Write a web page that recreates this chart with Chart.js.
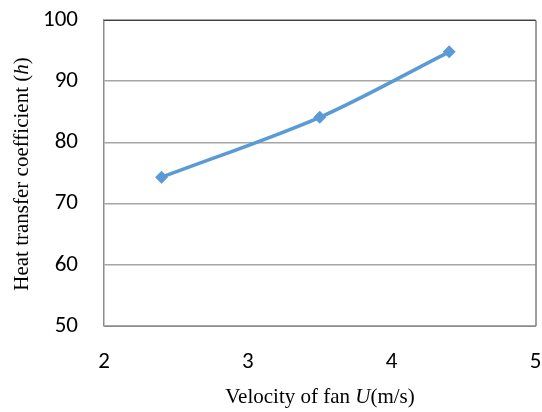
<!DOCTYPE html>
<html>
<head>
<meta charset="utf-8">
<script src="https://cdn.jsdelivr.net/npm/chart.js@4"></script>
<style>
  html, body { margin: 0; padding: 0; background: #fff; }
  #wrap { width: 542px; height: 412px; }
</style>
</head>
<body>
<div id="wrap"><canvas id="chart"></canvas></div>
<script>
var velocity = [2.4, 3.5, 4.4];
var heatCoeff = [74.3, 84.1, 94.8];
var xTicks = [2, 3, 4, 5];
var yTicks = [50, 60, 70, 80, 90, 100];
var xTitle = [['Velocity of fan ', false], ['U', true], ['(m/s)', false]];
var yTitle = [['Heat transfer coefficient (', false], ['h', true], [')', false]];

// draws a title made of plain and italic pieces
function drawRich(ctx, parts, size) {
    var total = 0;
    parts.forEach(function (p) {
        ctx.font = (p[1] ? 'italic ' : '') + size + 'px "Liberation Serif", serif';
        total += ctx.measureText(p[0]).width;
    });
    var x = -total / 2;
    parts.forEach(function (p) {
        ctx.font = (p[1] ? 'italic ' : '') + size + 'px "Liberation Serif", serif';
        ctx.fillText(p[0], x, 0);
        x += ctx.measureText(p[0]).width;
    });
}

var frame = {
    id: 'frame',
    afterDraw: function (chart) {
        var ctx = chart.ctx, a = chart.chartArea;
        ctx.save();
        ctx.strokeStyle = '#404040';
        ctx.lineWidth = 1;
        ctx.beginPath();
        ctx.moveTo(a.left, a.top + 0.5);
        ctx.lineTo(a.right + 0.5, a.top + 0.5);
        ctx.lineTo(a.right + 0.5, a.bottom);
        ctx.stroke();

        ctx.fillStyle = '#000';
        ctx.textBaseline = 'middle';
        ctx.textAlign = 'left';
        ctx.save();
        ctx.translate(320, 397);
        drawRich(ctx, xTitle, 21);
        ctx.restore();
        ctx.save();
        ctx.translate(22, 174);
        ctx.rotate(-Math.PI / 2);
        drawRich(ctx, yTitle, 21);
        ctx.restore();
        ctx.restore();
    }
};

var tickFont = { family: 'Carlito, "Liberation Sans", sans-serif', size: 23 };

var ctx = document.getElementById('chart').getContext('2d');
new Chart(ctx, {
    type: 'scatter',
    data: {
        datasets: [{
            data: velocity.map(function (v, i) { return { x: v, y: heatCoeff[i] }; }),
            showLine: true,
            borderColor: '#5B9BD5',
            backgroundColor: '#5B9BD5',
            borderWidth: 3.5,
            tension: 0.3,
            pointStyle: 'rectRot',
            pointRadius: 6.5,
            pointBorderWidth: 0
        }]
    },
    options: {
        responsive: true,
        maintainAspectRatio: false,
        animation: false,
        layout: { padding: { top: 20, right: 6, left: 0, bottom: 0 } },
        plugins: { legend: { display: false }, tooltip: { enabled: false } },
        scales: {
            x: {
                type: 'linear',
                min: 2, max: 5,
                afterBuildTicks: function (s) { s.ticks = xTicks.map(function (v) { return { value: v }; }); },
                afterFit: function (s) { s.height = 86; s.paddingLeft = 0; s.paddingRight = 0; },
                grid: { display: false, drawTicks: false },
                border: { color: '#8c8c8c', width: 1 },
                ticks: { color: '#000', padding: 22, maxRotation: 0, font: tickFont }
            },
            y: {
                type: 'linear',
                min: 50, max: 100,
                afterBuildTicks: function (s) { s.ticks = yTicks.map(function (v) { return { value: v }; }); },
                afterFit: function (s) { s.width = 104; s.paddingTop = 0; s.paddingBottom = 0; },
                grid: { color: '#a6a6a6', lineWidth: 1.5, drawTicks: false },
                border: { color: '#8c8c8c', width: 1.5 },
                ticks: { color: '#000', padding: 26, font: tickFont }
            }
        }
    },
    plugins: [frame]
});
</script>
</body>
</html>
